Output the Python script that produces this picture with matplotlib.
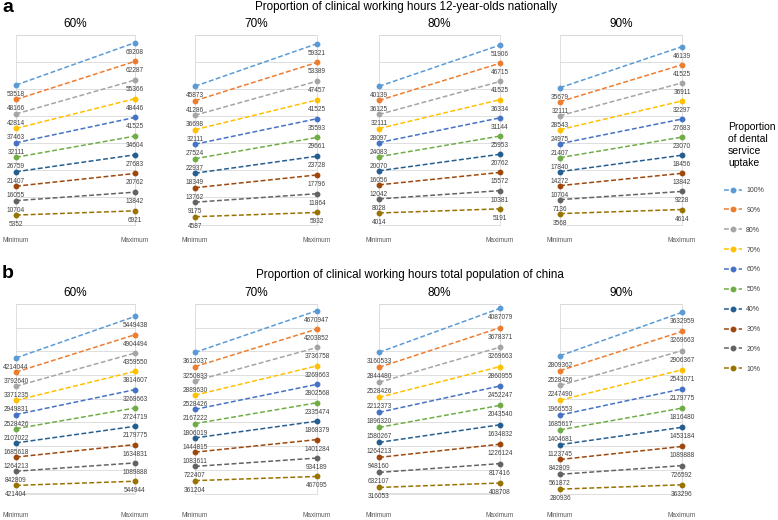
import numpy as np
import matplotlib
matplotlib.use("Agg")
import matplotlib.pyplot as plt

plt.rcParams['font.family'] = ['Liberation Sans', 'DejaVu Sans']

# series names and Excel-style colours
series = ['100%', '90%', '80%', '70%', '60%', '50%', '40%', '30%', '20%', '10%']
colors = ['#5B9BD5', '#ED7D31', '#A5A5A5', '#FFC000', '#4472C4',
          '#70AD47', '#255E91', '#9E480E', '#636363', '#997300']
panels = ['60%', '70%', '80%', '90%']
categories = ['Minimum', 'Maximum']

# row a: 12-year-olds nationally
a_min = [
    [53518, 48166, 42814, 37463, 32111, 26759, 21407, 16055, 10704, 5352],
    [45873, 41286, 36698, 32111, 27524, 22937, 18349, 13762, 9175, 4587],
    [40139, 36125, 32111, 28097, 24083, 20070, 16056, 12042, 8028, 4014],
    [35679, 32111, 28543, 24975, 21407, 17840, 14272, 10704, 7136, 3568],
]
a_max = [
    [69208, 62287, 55366, 48446, 41525, 34604, 27683, 20762, 13842, 6921],
    [59321, 53389, 47457, 41525, 35593, 29661, 23728, 17796, 11864, 5932],
    [51906, 46715, 41525, 36334, 31144, 25953, 20762, 15572, 10381, 5191],
    [46139, 41525, 36911, 32297, 27683, 23070, 18456, 13842, 9228, 4614],
]

# row b: total population of china
b_min = [
    [4214044, 3792640, 3371235, 2949831, 2528426, 2107022, 1685618, 1264213, 842809, 421404],
    [3612037, 3250833, 2889630, 2528426, 2167222, 1806019, 1444815, 1083611, 722407, 361204],
    [3160533, 2844480, 2528426, 2212373, 1896320, 1580267, 1264213, 948160, 632107, 316053],
    [2809362, 2528426, 2247490, 1966553, 1685617, 1404681, 1123745, 842809, 561872, 280936],
]
b_max = [
    [5449438, 4904494, 4359550, 3814607, 3269663, 2724719, 2179775, 1634831, 1089888, 544944],
    [4670947, 4203852, 3736758, 3269663, 2802568, 2335474, 1868379, 1401284, 934189, 467095],
    [4087079, 3678371, 3269663, 2860955, 2452247, 2043540, 1634832, 1226124, 817416, 408708],
    [3632959, 3269663, 2906367, 2543071, 2179775, 1816480, 1453184, 1089888, 726592, 363296],
]

# hidden value-axis limits of each panel
a_ylim = [(1860, 72160), (2120, 62170), (730, 54860), (790, 49190)]
b_ylim = [(180000, 5818000), (35000, 4839000), (188000, 4178000), (198000, 3791000)]

W, H = 778, 520
fig = plt.figure(figsize=(W / 100, H / 100), dpi=100)


def fy(px):
    return 1 - px / H


lefts = [16, 195, 379, 560]
rights = [135, 317, 500, 682]
grid_c = '#D9D9D9'


def draw_row(mins, maxs, ylims, top, bottom, n_grid, title, title_x, title_y, letter,
             letter_y, ptitle_y, cat_y):
    fig.text(2 / W, fy(letter_y), letter, fontsize=14, fontweight='bold',
             ha='left', va='center')
    fig.text(title_x / W, fy(title_y), title, fontsize=8.4, ha='center', va='center')
    handles = []
    for i, p in enumerate(panels):
        ax = fig.add_axes([lefts[i] / W, fy(bottom), (rights[i] - lefts[i]) / W,
                           (bottom - top) / H])
        lo, hi = ylims[i]
        ax.set_xlim(0, 1)
        ax.set_ylim(lo, hi)
        ax.set_yticks(np.linspace(lo, hi, n_grid + 1))
        ax.set_xticks([])
        ax.tick_params(length=0, labelleft=False)
        ax.grid(axis='y', color=grid_c, lw=0.6)
        ax.set_axisbelow(True)
        for s in ax.spines.values():
            s.set_color(grid_c)
            s.set_linewidth(0.6)
        for j, name in enumerate(series):
            ln, = ax.plot([0, 1], [mins[i][j], maxs[i][j]], ls='--', dashes=(3.2, 1.6),
                          lw=1.1, color=colors[j], marker='o', ms=3.2,
                          clip_on=False, label=name, zorder=3)
            handles.append(ln)
            for x, v in zip([0, 1], [mins[i][j], maxs[i][j]]):
                ax.annotate(str(v), (x, v), xytext=(0, -9.5), textcoords='offset pixels',
                            ha='center', va='center', fontsize=4.7, color='#404040',
                            annotation_clip=False)
        ax.annotate(p, (0.5, fy(ptitle_y)), xycoords=('axes fraction', 'figure fraction'),
                    ha='center', va='center', fontsize=8.5)
        for x, c in zip([0, 1], categories):
            ax.annotate(c, (x, fy(cat_y)), xycoords=('data', 'figure fraction'),
                        ha='center', va='center', fontsize=4.7, color='#595959',
                        annotation_clip=False)
    return handles[:len(series)]


handles = draw_row(a_min, a_max, a_ylim, 34.7, 224.5, 7,
                   'Proportion of clinical working hours 12-year-olds nationally', 406, 7,
                   'a', 7, 24, 240)
draw_row(b_min, b_max, b_ylim, 304, 493.5, 8,
         'Proportion of clinical working hours total population of china', 410, 275,
         'b', 274, 292.5, 515.7)

fig.text(728 / W, fy(122), 'Proportion\nof dental\nservice\nuptake', fontsize=7.5,
         ha='left', va='top', linespacing=1.25)
fig.legend(handles, series, loc='upper left', bbox_to_anchor=(724 / W, fy(187)),
           frameon=False, fontsize=5, handlelength=2.6, handletextpad=0.6,
           labelspacing=1.85, borderpad=0, borderaxespad=0, labelcolor='#404040')

fig.savefig('out.png', dpi=100)
